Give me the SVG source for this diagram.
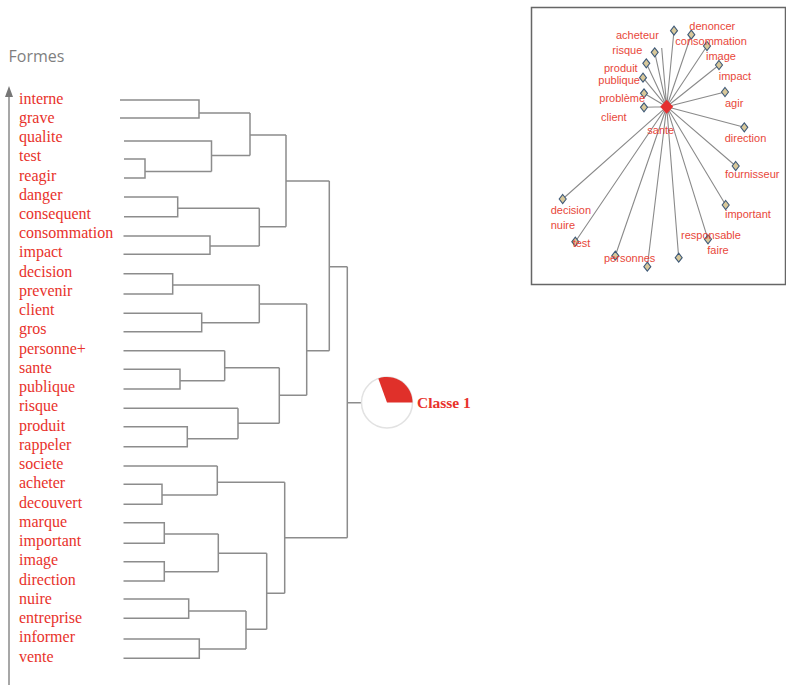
<svg xmlns="http://www.w3.org/2000/svg" width="786" height="685" viewBox="0 0 786 685">
<style>
.lbl{font-family:"Liberation Serif","DejaVu Serif",serif;font-size:16px;fill:#e8322b}
.ln{fill:none;stroke:#8c8c8c;stroke-width:1.5}
.il{fill:none;stroke:#8a8a8a;stroke-width:1.1}
.it{font-family:"Liberation Sans",Arial,sans-serif;font-size:11px;fill:#e8473a}
.dm{fill:#d8c89a;stroke:#3f5a78;stroke-width:1.1}
</style>
<defs>
<path id="dia" d="M0,-4.5 L3.5,0 L0,4.5 L-3.5,0Z"/>
</defs>
<rect width="786" height="685" fill="#fff"/>
<text x="8.5" y="61.5" font-family="'Open Sans',sans-serif" font-size="16" fill="#7f7f7f">Formes</text>
<g id="axis">
<line x1="9" y1="95" x2="9" y2="685" stroke="#8a8a8a" stroke-width="1.5"/>
<path d="M9,86 L13,97 L5,97Z" fill="#777"/>
</g>
<g id="labels">
<g id="n-interne"><text class="lbl" x="19" y="103.5">interne</text></g>
<g id="n-grave"><text class="lbl" x="19" y="122.7">grave</text></g>
<g id="n-qualite"><text class="lbl" x="19" y="142">qualite</text></g>
<g id="n-test"><text class="lbl" x="19" y="161.2">test</text></g>
<g id="n-reagir"><text class="lbl" x="19" y="180.5">reagir</text></g>
<g id="n-danger"><text class="lbl" x="19" y="199.7">danger</text></g>
<g id="n-consequent"><text class="lbl" x="19" y="218.9">consequent</text></g>
<g id="n-consommation"><text class="lbl" x="19" y="238.2">consommation</text></g>
<g id="n-impact"><text class="lbl" x="19" y="257.4">impact</text></g>
<g id="n-decision"><text class="lbl" x="19" y="276.7">decision</text></g>
<g id="n-prevenir"><text class="lbl" x="19" y="295.9">prevenir</text></g>
<g id="n-client"><text class="lbl" x="19" y="315.1">client</text></g>
<g id="n-gros"><text class="lbl" x="19" y="334.4">gros</text></g>
<g id="n-personne"><text class="lbl" x="19" y="353.6">personne+</text></g>
<g id="n-sante"><text class="lbl" x="19" y="372.9">sante</text></g>
<g id="n-publique"><text class="lbl" x="19" y="392.1">publique</text></g>
<g id="n-risque"><text class="lbl" x="19" y="411.3">risque</text></g>
<g id="n-produit"><text class="lbl" x="19" y="430.6">produit</text></g>
<g id="n-rappeler"><text class="lbl" x="19" y="449.8">rappeler</text></g>
<g id="n-societe"><text class="lbl" x="19" y="469.1">societe</text></g>
<g id="n-acheter"><text class="lbl" x="19" y="488.3">acheter</text></g>
<g id="n-decouvert"><text class="lbl" x="19" y="507.5">decouvert</text></g>
<g id="n-marque"><text class="lbl" x="19" y="526.8">marque</text></g>
<g id="n-important"><text class="lbl" x="19" y="546">important</text></g>
<g id="n-image"><text class="lbl" x="19" y="565.3">image</text></g>
<g id="n-direction"><text class="lbl" x="19" y="584.5">direction</text></g>
<g id="n-nuire"><text class="lbl" x="19" y="603.7">nuire</text></g>
<g id="n-entreprise"><text class="lbl" x="19" y="623">entreprise</text></g>
<g id="n-informer"><text class="lbl" x="19" y="642.2">informer</text></g>
<g id="n-vente"><text class="lbl" x="19" y="661.5">vente</text></g>
</g>
<g id="connectors" class="ln">
<path d="M120,100 H199 V118 H120 M199,113 H250"/>
<path d="M124,159 H145 V178 H124 M145,171.5 H211.5 M124,141 H211.5 V171.5 M211.5,155.5 H250"/>
<path d="M250,113 V155.5 M250,135 H286"/>
<path d="M124,197 H177.7 V216.7 H124 M177.7,208.3 H259.3"/>
<path d="M123.5,236 H210 V254.3 H123.5 M210,246 H259.3"/>
<path d="M259.3,208.3 V246 M259.3,226.7 H286"/>
<path d="M286,135 V226.7 M286,181 H329.3"/>
<path d="M123.5,273.7 H172.7 V294 H123.5 M172.7,285 H259.3"/>
<path d="M123.5,313.3 H201.7 V331.7 H123.5 M201.7,322.7 H259.3"/>
<path d="M259.3,285 V322.7 M259.3,304 H306.7"/>
<path d="M123.5,350.7 H224.7 M123.5,369.3 H180 V389 H123.5 M180,380.7 H224.7 M224.7,350.7 V380.7 M224.7,367.7 H279.3"/>
<path d="M123.5,408.3 H238 M123.5,426.7 H187.3 V446.7 H123.5 M187.3,438.7 H238 M238,408.3 V438.7 M238,423.3 H279.3"/>
<path d="M279.3,367.7 V423.3 M279.3,395.3 H306.7"/>
<path d="M306.7,304 V395.3 M306.7,350.7 H329.3"/>
<path d="M329.3,181 V350.7 M329.3,266.7 H347.3"/>
<path d="M123.5,466 H217.3 M123.5,484.3 H162 V504.3 H123.5 M162,495 H217.3 M217.3,466 V495 M217.3,482.3 H284.7"/>
<path d="M123.5,522.7 H164.3 V543.3 H123.5 M164.3,534 H218.3"/>
<path d="M123.5,561.7 H164.3 V581 H123.5 M164.3,571.7 H218.3"/>
<path d="M218.3,534 V571.7 M218.3,553.3 H266.7"/>
<path d="M123.5,599 H188.7 V618.3 H123.5 M188.7,611 H246"/>
<path d="M123.5,639 H199.3 V658.3 H123.5 M199.3,649 H246"/>
<path d="M246,611 V649 M246,629.3 H266.7"/>
<path d="M266.7,553.3 V629.3 M266.7,593.3 H284.7"/>
<path d="M284.7,482.3 V593.3 M284.7,537.7 H347.3"/>
<path d="M347.3,266.7 V537.7 M347.3,402.7 H361.5"/>
</g>
<g id="classe1">
<circle cx="387" cy="402.5" r="25.5" fill="#fff" stroke="#e2e2e2" stroke-width="1.5"/>
<path d="M387,402.5 L378.3,378.5 A25.5,25.5 0 0 1 412.5,402.5 Z" fill="#e0302a"/>
<text x="417" y="408" font-family="'Liberation Serif',serif" font-size="15.5" font-weight="bold" fill="#e8322b">Classe 1</text>
</g>
<g id="inset">
<rect x="531.5" y="7.5" width="254" height="277" fill="#fff" stroke="#666" stroke-width="1.5"/>
<g id="inset-links" class="il">
<path d="M666.7,106.7 L674,30.7 M666.7,106.7 L691.3,34.7 M666.7,106.7 L707,46 M666.7,106.7 L719,65 M666.7,106.7 L725,92 M666.7,106.7 L744.3,127.3 M666.7,106.7 L654.7,52.3 M666.7,106.7 L646.3,63.3 M666.7,106.7 L643,77.7 M666.7,106.7 L644,93.3 M666.7,106.7 L644,107.3 M666.7,106.7 L661.7,48 M666.7,106.7 L735.7,166 M666.7,106.7 L725.7,205 M666.7,106.7 L708,239.3 M666.7,106.7 L678.7,257.7 M666.7,106.7 L647.3,266.7 M666.7,106.7 L615.3,255.7 M666.7,106.7 L575.3,241.7 M666.7,106.7 L562.7,199"/>
</g>
<g id="inset-nodes">
<use href="#dia" class="dm" x="674" y="30.7"/>
<use href="#dia" class="dm" x="691.3" y="34.7"/>
<use href="#dia" class="dm" x="707" y="46"/>
<use href="#dia" class="dm" x="719" y="65"/>
<use href="#dia" class="dm" x="725" y="92"/>
<use href="#dia" class="dm" x="744.3" y="127.3"/>
<use href="#dia" class="dm" x="654.7" y="52.3"/>
<use href="#dia" class="dm" x="646.3" y="63.3"/>
<use href="#dia" class="dm" x="643" y="77.7"/>
<use href="#dia" class="dm" x="644" y="93.3"/>
<use href="#dia" class="dm" x="644" y="107.3"/>
<use href="#dia" class="dm" x="735.7" y="166"/>
<use href="#dia" class="dm" x="725.7" y="205"/>
<use href="#dia" class="dm" x="708" y="239.3"/>
<use href="#dia" class="dm" x="678.7" y="257.7"/>
<use href="#dia" class="dm" x="647.3" y="266.7"/>
<use href="#dia" class="dm" x="615.3" y="255.7"/>
<use href="#dia" class="dm" x="575.3" y="241.7"/>
<use href="#dia" class="dm" x="562.7" y="199"/>
<path d="M666.7,99.7 L673.2,106.7 L666.7,113.7 L660.2,106.7Z" fill="#e53030"/>
</g>
<g id="inset-labels">
<text class="it" x="616" y="38.5">acheteur</text>
<text class="it" x="612.3" y="53.5">risque</text>
<text class="it" x="604" y="71.7">produit</text>
<text class="it" x="598.3" y="83.5">publique</text>
<text class="it" x="599.3" y="101.7">problème</text>
<text class="it" x="601" y="120.7">client</text>
<text class="it" x="647.3" y="134">sante</text>
<text class="it" x="689.3" y="30">denoncer</text>
<text class="it" x="675.3" y="45">consommation</text>
<text class="it" x="706" y="59.5">image</text>
<text class="it" x="718.7" y="80">impact</text>
<text class="it" x="725" y="106.7">agir</text>
<text class="it" x="724.7" y="141.7">direction</text>
<text class="it" x="725" y="178.3">fournisseur</text>
<text class="it" x="725" y="218.3">important</text>
<text class="it" x="681" y="239.3">responsable</text>
<text class="it" x="707.3" y="254">faire</text>
<text class="it" x="604" y="261.7">personnes</text>
<text class="it" x="572.7" y="246.7">test</text>
<text class="it" x="550.7" y="214">decision</text>
<text class="it" x="550.7" y="229.3">nuire</text>
</g>
</g>
</svg>
